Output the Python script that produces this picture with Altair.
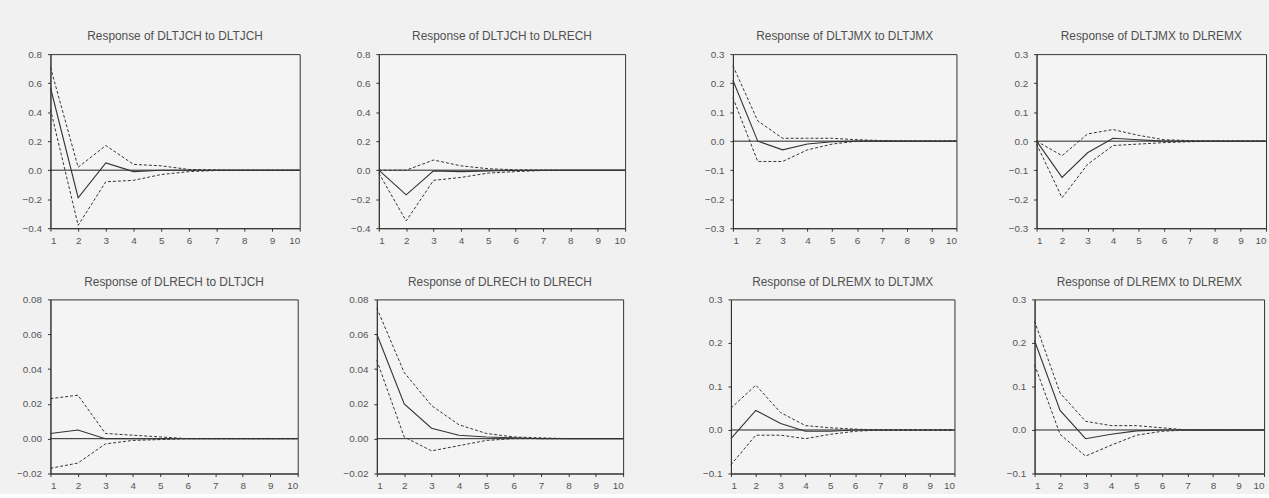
import altair as alt
import pandas as pd

# Horizon (periods)
H = [1, 2, 3, 4, 5, 6, 7, 8, 9, 10]

TITLES = [
    "Response of DLTJCH to DLTJCH",
    "Response of DLTJCH to DLRECH",
    "Response of DLTJMX to DLTJMX",
    "Response of DLTJMX to DLREMX",
    "Response of DLRECH to DLTJCH",
    "Response of DLRECH to DLRECH",
    "Response of DLREMX to DLTJMX",
    "Response of DLREMX to DLREMX",
]

# Impulse responses (solid) and +/- 2 S.E. bands (dashed)
irf_1 = [0.57, -0.19, 0.05, -0.01, 0.0, 0.0, 0.0, 0.0, 0.0, 0.0]
up_1 = [0.71, 0.02, 0.17, 0.04, 0.03, 0.005, 0.002, 0.0, 0.0, 0.0]
lo_1 = [0.42, -0.38, -0.08, -0.07, -0.03, -0.01, -0.002, 0.0, 0.0, 0.0]

irf_2 = [0.0, -0.17, -0.005, -0.01, -0.005, -0.002, 0.0, 0.0, 0.0, 0.0]
up_2 = [0.0, 0.0, 0.07, 0.03, 0.01, 0.003, 0.001, 0.0, 0.0, 0.0]
lo_2 = [-0.02, -0.35, -0.07, -0.05, -0.02, -0.01, -0.002, 0.0, 0.0, 0.0]

irf_3 = [0.21, 0.0, -0.03, -0.01, -0.002, 0.0, 0.0, 0.0, 0.0, 0.0]
up_3 = [0.26, 0.07, 0.01, 0.01, 0.01, 0.005, 0.002, 0.0, 0.0, 0.0]
lo_3 = [0.15, -0.07, -0.07, -0.03, -0.01, 0.0, 0.0, 0.0, 0.0, 0.0]

irf_4 = [0.0, -0.125, -0.04, 0.01, 0.005, 0.0, 0.0, 0.0, 0.0, 0.0]
up_4 = [0.0, -0.05, 0.025, 0.04, 0.02, 0.005, 0.002, 0.0, 0.0, 0.0]
lo_4 = [-0.01, -0.195, -0.08, -0.015, -0.01, -0.005, -0.002, 0.0, 0.0, 0.0]

irf_5 = [0.003, 0.005, 0.0, 0.0, 0.0, 0.0, 0.0, 0.0, 0.0, 0.0]
up_5 = [0.023, 0.025, 0.003, 0.002, 0.001, 0.0, 0.0, 0.0, 0.0, 0.0]
lo_5 = [-0.017, -0.014, -0.003, -0.001, -0.0005, 0.0, 0.0, 0.0, 0.0, 0.0]

irf_6 = [0.06, 0.02, 0.006, 0.002, 0.001, 0.0005, 0.0, 0.0, 0.0, 0.0]
up_6 = [0.075, 0.038, 0.019, 0.008, 0.003, 0.001, 0.0005, 0.0, 0.0, 0.0]
lo_6 = [0.045, 0.001, -0.007, -0.004, -0.001, 0.0, 0.0, 0.0, 0.0, 0.0]

irf_7 = [-0.02, 0.045, 0.015, -0.003, -0.003, 0.0, 0.0, 0.0, 0.0, 0.0]
up_7 = [0.05, 0.103, 0.04, 0.01, 0.005, 0.002, 0.0, 0.0, 0.0, 0.0]
lo_7 = [-0.08, -0.012, -0.012, -0.02, -0.01, -0.003, 0.0, 0.0, 0.0, 0.0]

irf_8 = [0.205, 0.045, -0.02, -0.01, -0.002, 0.0, 0.0, 0.0, 0.0, 0.0]
up_8 = [0.25, 0.085, 0.02, 0.01, 0.01, 0.005, 0.0, 0.0, 0.0, 0.0]
lo_8 = [0.15, -0.01, -0.06, -0.035, -0.012, -0.003, 0.0, 0.0, 0.0, 0.0]

# Y axis tick values per panel
TICKS_A = [-0.4, -0.2, 0.0, 0.2, 0.4, 0.6, 0.8]
TICKS_B = [-0.3, -0.2, -0.1, 0.0, 0.1, 0.2, 0.3]
TICKS_C = [-0.02, 0.0, 0.02, 0.04, 0.06, 0.08]
TICKS_D = [-0.1, 0.0, 0.1, 0.2, 0.3]
X_TICKS = [1, 2, 3, 4, 5, 6, 7, 8, 9, 10]

FONT = "Liberation Sans"
INK = "#333333"
TXT = "#555555"


def panel(title, irf, up, lo, ticks, fmt, w, h):
    df = pd.DataFrame({"h": H, "irf": irf, "upper": up, "lower": lo})
    x = alt.X("h:Q", scale=alt.Scale(domain=[1, 10], nice=False, zero=False),
              axis=alt.Axis(values=X_TICKS, format="d", title=None, grid=False))
    yscale = alt.Scale(domain=[ticks[0], ticks[-1]], nice=False, zero=False)
    yaxis = alt.Axis(values=ticks, format=fmt, title=None, grid=False,
                     minExtent=34, maxExtent=34)
    base = alt.Chart(df)
    solid = base.mark_line(color=INK, strokeWidth=1.1).encode(
        x=x, y=alt.Y("irf:Q", scale=yscale, axis=yaxis))
    upper = base.mark_line(color=INK, strokeWidth=1, strokeDash=[3, 2]).encode(
        x=x, y=alt.Y("upper:Q", scale=yscale, axis=yaxis))
    lower = base.mark_line(color=INK, strokeWidth=1, strokeDash=[3, 2]).encode(
        x=x, y=alt.Y("lower:Q", scale=yscale, axis=yaxis))
    zero = base.mark_rule(color="#222222", strokeWidth=1).encode(
        y=alt.Y("z:Q", scale=yscale, axis=yaxis)
    ).transform_calculate(z="0").transform_filter("datum.h == 1")
    return alt.layer(zero, upper, lower, solid).properties(
        title=alt.TitleParams(title, fontSize=12, font=FONT, color="#505050",
                              fontWeight="normal", offset=6),
        width=w, height=h)


p1 = panel(TITLES[0], irf_1, up_1, lo_1, TICKS_A, ".1f", 252, 176)
p2 = panel(TITLES[1], irf_2, up_2, lo_2, TICKS_A, ".1f", 249, 176)
p3 = panel(TITLES[2], irf_3, up_3, lo_3, TICKS_B, ".1f", 226, 176)
p4 = panel(TITLES[3], irf_4, up_4, lo_4, TICKS_B, ".1f", 232, 176)
p5 = panel(TITLES[4], irf_5, up_5, lo_5, TICKS_C, ".2f", 250, 176)
p6 = panel(TITLES[5], irf_6, up_6, lo_6, TICKS_C, ".2f", 249, 176)
p7 = panel(TITLES[6], irf_7, up_7, lo_7, TICKS_D, ".1f", 226, 176)
p8 = panel(TITLES[7], irf_8, up_8, lo_8, TICKS_D, ".1f", 232, 176)


def row(a, b, c, d):
    return alt.hconcat(alt.hconcat(a, b, spacing=42),
                       alt.hconcat(c, d, spacing=43), spacing=71)


chart = alt.vconcat(row(p1, p2, p3, p4), row(p5, p6, p7, p8), spacing=29).properties(
    padding={"left": 16, "top": 27, "right": 0, "bottom": 0},
    background="#f1f1f1",
).configure_view(
    stroke=INK, strokeWidth=1, fill="#f4f4f4"
).configure_axis(
    labelFont=FONT, labelFontSize=10, labelColor=TXT,
    domainColor=INK, tickColor=INK, tickSize=3, labelPadding=6,
).configure_axisX(labelPadding=4)

chart.save("out.html", embed_options={"renderer": "svg", "actions": False})
